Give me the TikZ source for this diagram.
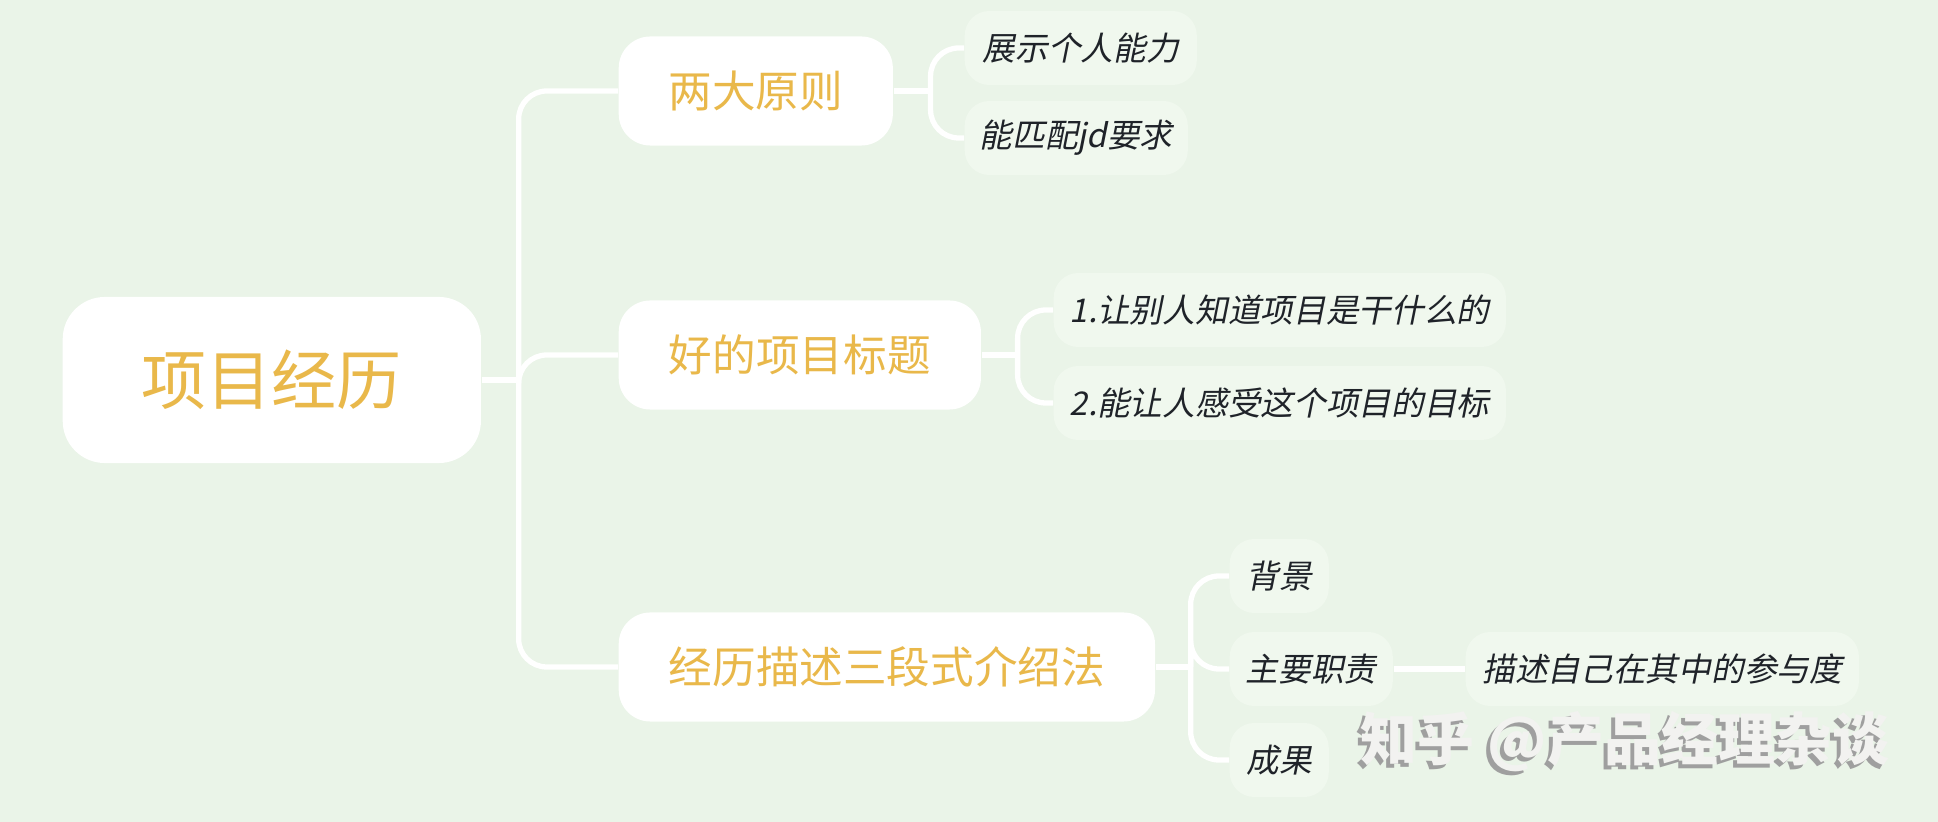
\documentclass[tikz,border=0pt]{standalone}
\usepackage{fontspec}
\newfontfamily\cjk{Noto Sans CJK SC}
\newfontfamily\cjkit[FakeSlant=0.2]{Noto Sans CJK SC}
\usetikzlibrary{positioning,calc}
\definecolor{Mint}{HTML}{EAF4E8}
\definecolor{MintSoft}{HTML}{F0F8EE}
\definecolor{Gold}{HTML}{E9B84A}
\definecolor{Ink}{HTML}{1F2329}
\definecolor{Mark}{HTML}{F2F2F0}
\tikzset{
  rootbox/.style={fill=white,rounded corners=12pt,anchor=west,minimum width=4.18cm,minimum height=1.66cm,font=\cjk\fontsize{18.5}{22}\selectfont,text=Gold},
  topicbox/.style={fill=white,rounded corners=9pt,anchor=west,minimum height=1.09cm,font=\cjk\fontsize{12.4}{15}\selectfont,text=Gold},
  leafbox/.style={fill=MintSoft,rounded corners=7pt,anchor=west,minimum height=0.74cm,font=\cjkit\fontsize{9.3}{11}\selectfont,text=Ink},
  branch/.style={draw=white,line width=1.5pt,rounded corners=8pt},
  markfont/.style={font=\cjk\bfseries\fontsize{16.2}{19}\selectfont}
}
\begin{document}
\begin{tikzpicture}[x=0.01cm,y=-0.01cm]
  \fill[Mint] (0,0) rectangle (1938,822);
  \useasboundingbox (0,0) rectangle (1938,822);
  % root and main topics
  \node[rootbox] (root) at (62,380) {项目经历};
  \node[topicbox,minimum width=2.74cm] (rule) at (618,91) {两大原则};
  \node[topicbox,minimum width=3.62cm] (title) at (618,355) {好的项目标题};
  \node[topicbox,minimum width=5.36cm] (desc) at (618,667) {经历描述三段式介绍法};
  % leaves
  \node[leafbox,minimum width=2.32cm] (show) at (964,48) {展示个人能力};
  \node[leafbox,minimum width=2.23cm] (match) at (964,138) {能匹配jd要求};
  \node[leafbox,minimum width=4.52cm] (know) at (1053,310) {1.让别人知道项目是干什么的};
  \node[leafbox,minimum width=4.52cm] (goal) at (1053,403) {2.能让人感受这个项目的目标};
  \node[leafbox,minimum width=0.99cm] (bg) at (1229,576) {背景};
  \node[leafbox,minimum width=1.63cm] (duty) at (1229,669) {主要职责};
  \node[leafbox,minimum width=0.99cm] (result) at (1229,760) {成果};
  \node[leafbox,minimum width=3.93cm] (part) at (1465,669) {描述自己在其中的参与度};
  % connectors
  \draw[branch] (root.east) -- ++(37,0) coordinate (rj);
  \foreach \t in {rule,title,desc} \draw[branch] (rj) |- (\t.west);
  \draw[branch] (rule.east) -- ++(37,0) coordinate (j1);
  \foreach \t in {show,match} \draw[branch] (j1) |- (\t.west);
  \draw[branch] (title.east) -- ++(36,0) coordinate (j2);
  \foreach \t in {know,goal} \draw[branch] (j2) |- (\t.west);
  \draw[branch] (desc.east) -- ++(35,0) coordinate (j3);
  \foreach \t in {bg,duty,result} \draw[branch] (j3) |- (\t.west);
  \draw[branch] (duty.east) -- (part.west);
  % watermark
  \node[markfont,text=gray!75] (wmshadow) at (1621,746) {知乎 @产品经理杂谈};
  \node[markfont,text=Mark] (wm) at (1625,742) {知乎 @产品经理杂谈};
\end{tikzpicture}
\end{document}
